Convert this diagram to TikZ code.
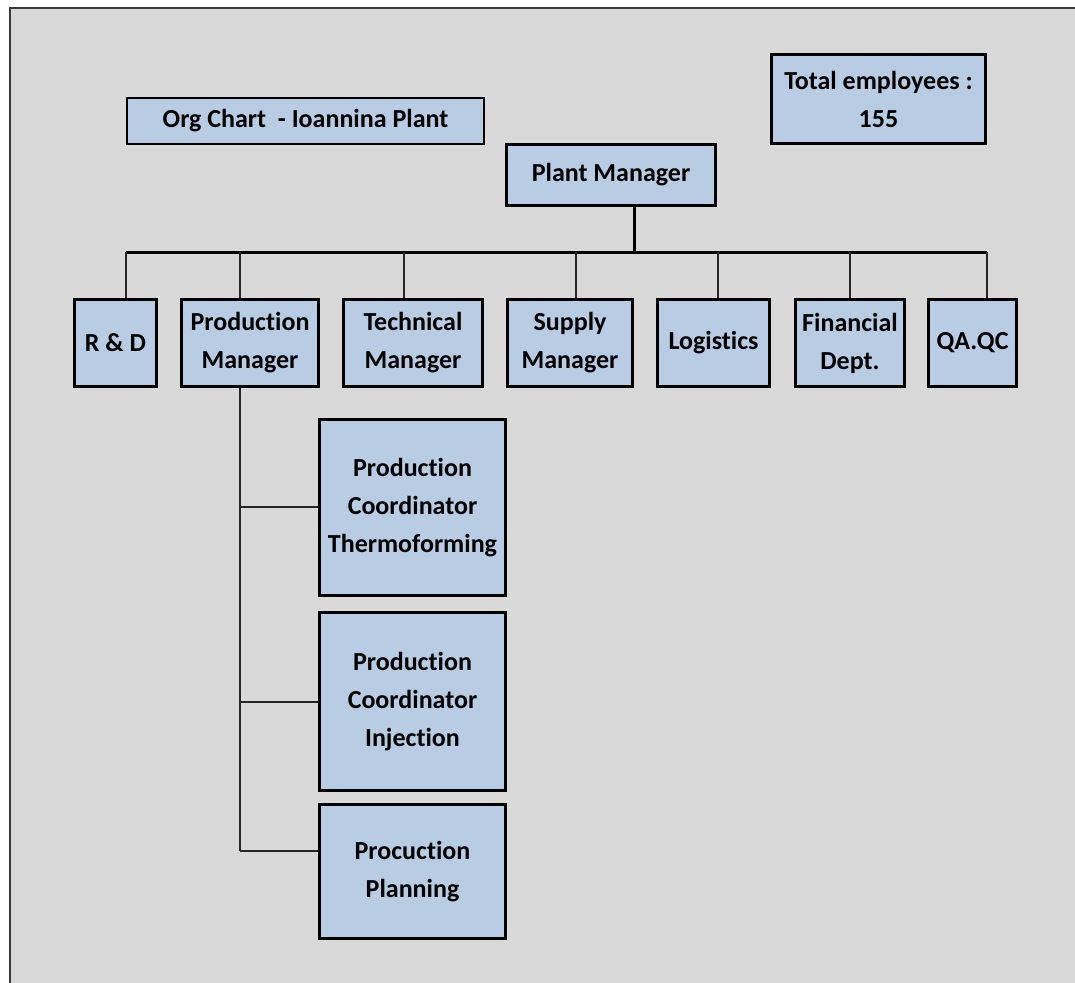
\documentclass[tikz,border=0pt]{standalone}
\usepackage{fontspec}
\setmainfont{Carlito}[Ligatures=NoCommon]
\definecolor{pagegray}{HTML}{D9D9D9}
\definecolor{boxblue}{HTML}{B8CCE4}
\definecolor{framegray}{HTML}{3A3A3A}
\begin{document}
\begin{tikzpicture}[x=1bp,y=-1bp,
  box/.style={draw=black, fill=boxblue, line width=3bp, inner sep=0pt,
    align=center, font=\fontsize{26bp}{38bp}\selectfont\bfseries},
  thinbox/.style={box, line width=1.8bp},
  link/.style={line width=1.5bp, draw=black!85},
  bus/.style={line width=3bp, draw=black}]
\useasboundingbox (0,0) rectangle (1075,983);
\clip (0,0) rectangle (1075,983);
% sheet background with its frame
\fill[white] (0,0) rectangle (1075,983);
\draw[fill=pagegray, draw=framegray, line width=2bp] (10,8) rectangle (1090,1000);

% header boxes
\node[thinbox, minimum width=357bp, minimum height=46bp] (title) at (305.5,121) {Org Chart~ - Ioannina Plant};
\node[box, minimum width=214bp, minimum height=89bp] (total) at (878.5,99) {Total employees :\\155};
\node[box, minimum width=209bp, minimum height=61bp] (pm) at (611,175) {Plant Manager};

% department level
\node[box, minimum width=82bp,  minimum height=87bp] (rd)     at (115.5,343) {R \& D};
\node[box, minimum width=137bp, minimum height=87bp] (prod)   at (250,343)   {Production\\Manager};
\node[box, minimum width=139bp, minimum height=87bp] (tech)   at (413,343)   {Technical\\Manager};
\node[box, minimum width=125bp, minimum height=87bp] (supply) at (570,343)   {Supply\\Manager};
\node[box, minimum width=112bp, minimum height=87bp] (logi)   at (713.5,343) {Logistics};
\node[box, minimum width=109bp, minimum height=87bp] (fin)    at (850,343)   {Financial\\Dept.};
\node[box, minimum width=88bp,  minimum height=87bp] (qa)     at (972.5,343) {QA.QC};

% production sub-units
\node[box, minimum width=186bp, minimum height=176bp] (thermo) at (412.5,507.5) {Production\\Coordinator\\Thermoforming};
\node[box, minimum width=186bp, minimum height=178bp] (inj)    at (412.5,701.5) {Production\\Coordinator\\Injection};
\node[box, minimum width=186bp, minimum height=134bp] (plan)   at (412.5,871.5) {Procuction\\Planning};

% drop points on the bus
\coordinate (bRD)  at (126,252);
\coordinate (bPR)  at (240,252);
\coordinate (bTE)  at (404,252);
\coordinate (bSU)  at (576,252);
\coordinate (bPM)  at (634,252);
\coordinate (bLO)  at (718,252);
\coordinate (bFI)  at (850,252);
\coordinate (bQA)  at (987,252);

% plant manager to departments
\draw[bus] (bPM |- pm.south) -- (bPM);
\draw[bus] (bRD) -- (bQA);
\draw[link] (bRD) -- (bRD |- rd.north);
\draw[link] (bPR) -- (bPR |- prod.north);
\draw[link] (bTE) -- (bTE |- tech.north);
\draw[link] (bSU) -- (bSU |- supply.north);
\draw[link] (bLO) -- (bLO |- logi.north);
\draw[link] (bFI) -- (bFI |- fin.north);
\draw[link] (bQA) -- (bQA |- qa.north);

% production manager to its sub-units
\coordinate (tThermo) at (240,507);
\coordinate (tInj)    at (240,702);
\coordinate (tPlan)   at (240,851);
\draw[link] (bPR |- prod.south) -- (tPlan);
\draw[link] (tThermo) -- (tThermo -| thermo.west);
\draw[link] (tInj) -- (tInj -| inj.west);
\draw[link] (tPlan) -- (tPlan -| plan.west);
\end{tikzpicture}
\end{document}
